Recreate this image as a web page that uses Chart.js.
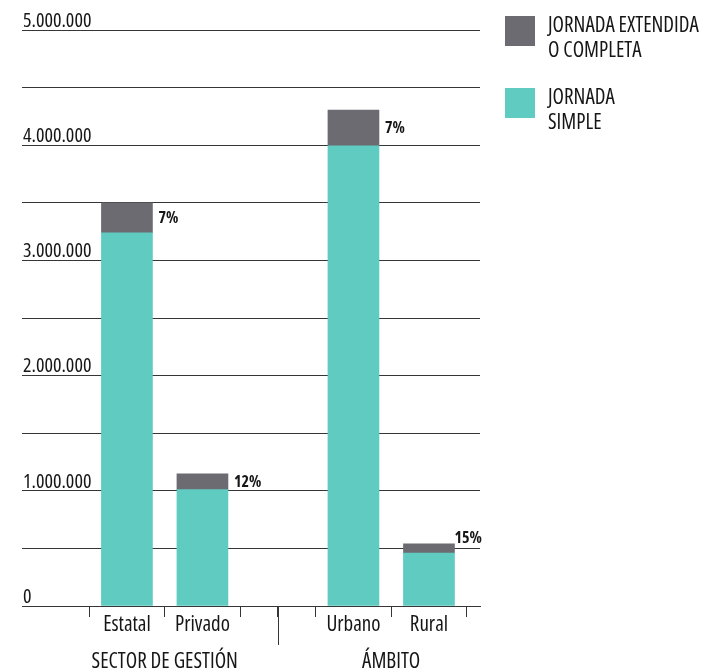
<!DOCTYPE html>
<html>
<head>
<meta charset="utf-8">
<title>Jornada escolar</title>
<script src="https://cdn.jsdelivr.net/npm/chart.js@4.4.0/dist/chart.umd.min.js"></script>
<style>
  html, body { margin: 0; padding: 0; background: #fff; }
  #wrap { width: 705px; height: 672px; position: relative; }
</style>
</head>
<body>
<div id="wrap"><canvas id="jornadaChart"></canvas></div>
<script>
// matrícula por tipo de jornada, agrupada por sector de gestión y ámbito
const groups = ['SECTOR DE GESTIÓN', 'ÁMBITO'];
const categories = ['Estatal', 'Privado', 'Urbano', 'Rural'];
const categoryGroup = [0, 0, 1, 1];
const jornadaSimple = [3240000, 1010000, 3995000, 460000];
const jornadaExtendida = [260000, 138000, 310000, 80000];
const seriesNames = [['JORNADA', 'SIMPLE'], ['JORNADA EXTENDIDA', 'O COMPLETA']];
const yLabelled = [0, 1000000, 2000000, 3000000, 4000000, 5000000];
const yGridStep = 500000;

// Open Sans at its narrowest width; 'condensed' goes in the weight slot of the font string
const FONT = '"Open Sans", sans-serif';
const STRETCH = 'condensed';
const TEXT = '#161616';
const GRID = '#363636';
const TEAL = '#5fcbc1';
const GRAY = '#6b6b71';

// each group leaves an empty slot before it, so bars sit at 1, 2, 4, 5
const slots = categories.map((c, i) => i + categoryGroup[i] + 1);
const groupCenters = groups.map((g, gi) => {
    const s = slots.filter((_, i) => categoryGroup[i] === gi);
    return (s[0] + s[s.length - 1]) / 2;
});
const dividers = groups.slice(1).map((g, gi) => {
    const prev = slots.filter((_, i) => categoryGroup[i] === gi);
    const next = slots.filter((_, i) => categoryGroup[i] === gi + 1);
    return (prev[prev.length - 1] + next[0]) / 2;
});
const boundaries = [];
slots.forEach(s => {
    [s - 0.5, s + 0.5].forEach(b => { if (!boundaries.includes(b)) boundaries.push(b); });
});
const xTicks = boundaries.concat(slots, dividers).sort((a, b) => a - b);

function fmtThousands(v) {
    return String(v).replace(/\B(?=(\d{3})+(?!\d))/g, '.');
}

// percentage of extended day next to each bar, plus the group divider
const barNotes = {
    id: 'barNotes',
    afterDatasetsDraw(chart) {
        const ctx = chart.ctx;
        const meta = chart.getDatasetMeta(1);
        ctx.save();
        ctx.font = STRETCH + ' bold 16px ' + FONT;
        ctx.fillStyle = TEXT;
        ctx.textBaseline = 'alphabetic';
        ctx.textAlign = 'left';
        meta.data.forEach((bar, i) => {
            const pct = Math.round(jornadaExtendida[i] / (jornadaSimple[i] + jornadaExtendida[i]) * 100);
            const right = bar.x + bar.width / 2;
            const segH = Math.abs(bar.base - bar.y);
            if (segH < 14) {
                ctx.fillText(pct + '%', right, bar.y - 1);
            } else {
                ctx.fillText(pct + '%', right + 6, (bar.y + bar.base) / 2 + 5.5);
            }
        });
        const xs = chart.scales.x;
        ctx.strokeStyle = GRID;
        ctx.lineWidth = 1;
        dividers.forEach(d => {
            const px = Math.round(xs.getPixelForValue(d)) + 0.5;
            ctx.beginPath();
            ctx.moveTo(px, chart.chartArea.bottom);
            ctx.lineTo(px, chart.chartArea.bottom + 39);
            ctx.stroke();
        });
        ctx.restore();
    }
};

// legend on the right with two-line labels
const sideLegend = {
    id: 'sideLegend',
    afterDraw(chart) {
        const ctx = chart.ctx;
        const left = chart.chartArea.right + 25;
        let top = 16;
        ctx.save();
        ctx.font = STRETCH + ' 21px ' + FONT;
        ctx.textBaseline = 'alphabetic';
        ctx.textAlign = 'left';
        chart.data.datasets.slice().reverse().forEach(ds => {
            ctx.fillStyle = ds.backgroundColor;
            ctx.fillRect(left, top, 30, 30);
            ctx.fillStyle = TEXT;
            ds.legendLines.forEach((line, li) => {
                ctx.fillText(line, left + 43, top + 16 + li * 24.5);
            });
            top += 72;
        });
        ctx.restore();
    }
};

const ctx = document.getElementById('jornadaChart');
new Chart(ctx, {
    type: 'bar',
    data: {
        datasets: [
            {
                label: seriesNames[0].join(' '),
                legendLines: seriesNames[0],
                data: slots.map((s, i) => ({ x: s, y: jornadaSimple[i] })),
                backgroundColor: TEAL,
                barThickness: 51
            },
            {
                label: seriesNames[1].join(' '),
                legendLines: seriesNames[1],
                data: slots.map((s, i) => ({ x: s, y: jornadaExtendida[i] })),
                backgroundColor: GRAY,
                barThickness: 51
            }
        ]
    },
    options: {
        responsive: true,
        maintainAspectRatio: false,
        animation: false,
        // the group axis pads both sides of its labels; let its lower half run off the canvas
        layout: { padding: { left: 20, right: 225, top: 30, bottom: -19.2 } },
        plugins: {
            legend: { display: false },
            tooltip: { enabled: false }
        },
        scales: {
            x: {
                type: 'linear',
                stacked: true,
                offset: false,
                min: -0.39,
                max: 5.676,
                weight: 1,
                afterBuildTicks: axis => { axis.ticks = xTicks.map(v => ({ value: v })); },
                border: { display: true, color: GRID, width: 1 },
                grid: {
                    offset: false,
                    drawOnChartArea: false,
                    tickLength: 11,
                    color: c => (slots.includes(c.tick && c.tick.value) ? 'rgba(0,0,0,0)' : GRID)
                },
                ticks: {
                    autoSkip: false,
                    maxRotation: 0,
                    padding: 0,
                    color: TEXT,
                    font: { family: FONT, weight: STRETCH, size: 21, lineHeight: 0.8 },
                    callback: v => {
                        const i = slots.indexOf(v);
                        return i >= 0 ? categories[i] : '';
                    }
                }
            },
            xGroup: {
                type: 'linear',
                position: 'bottom',
                offset: false,
                min: -0.39,
                max: 5.676,
                weight: 2,
                afterBuildTicks: axis => { axis.ticks = groupCenters.map(v => ({ value: v })); },
                border: { display: false },
                grid: { display: false, drawTicks: false, offset: false },
                ticks: {
                    autoSkip: false,
                    maxRotation: 0,
                    padding: 19.25,
                    color: TEXT,
                    font: { family: FONT, weight: STRETCH, size: 21, lineHeight: 0.9 },
                    callback: v => groups[groupCenters.indexOf(v)] || ''
                }
            },
            y: {
                stacked: true,
                min: 0,
                max: 5000000,
                border: { display: false },
                grid: { color: GRID, lineWidth: 1, drawTicks: false },
                ticks: {
                    stepSize: yGridStep,
                    mirror: true,
                    padding: 1,
                    labelOffset: -9,
                    color: TEXT,
                    font: { family: FONT, weight: STRETCH, size: 20 },
                    callback: v => (yLabelled.includes(v) ? fmtThousands(v) : '')
                }
            }
        }
    },
    plugins: [barNotes, sideLegend]
});
</script>
</body>
</html>
